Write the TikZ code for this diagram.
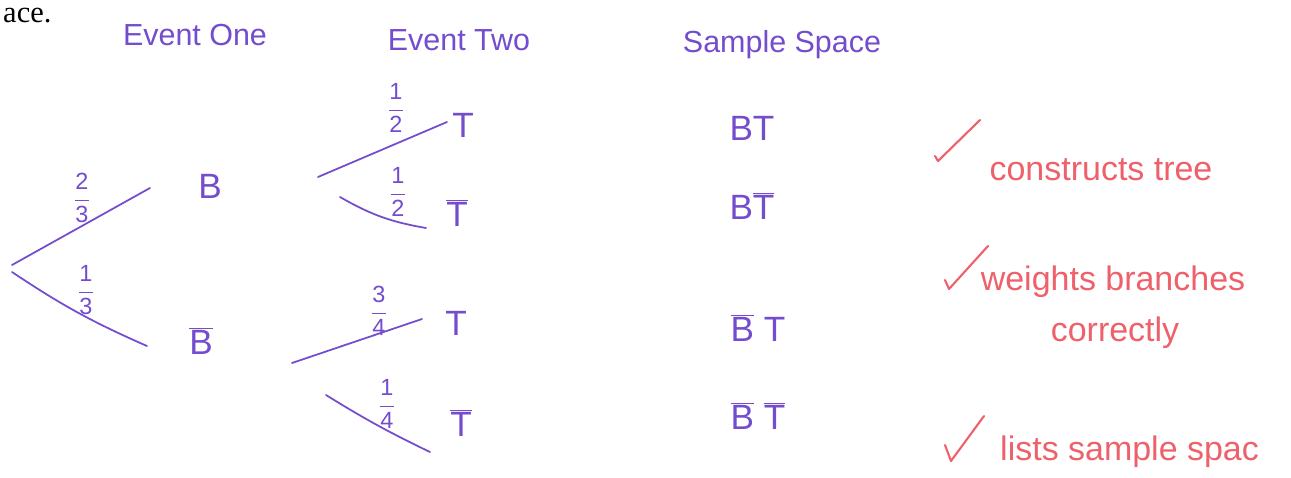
\documentclass[tikz,border=0pt]{standalone}
\usepackage{fontspec}
\setmainfont{Liberation Sans}
\newfontfamily\printfont{Liberation Serif}
\usetikzlibrary{positioning}
\definecolor{penpurple}{RGB}{116,76,206}
\definecolor{penred}{RGB}{238,96,106}
\newcommand{\nb}[1]{\ensuremath{\overline{\mbox{#1}}}}
\newcommand{\wfrac}[2]{$\displaystyle\frac{\mbox{#1}}{\mbox{#2}}$}

\begin{document}
\begin{tikzpicture}[x=0.03cm, y=-0.03cm,
    pen/.style={penpurple, line width=1.5pt, line cap=round},
    head/.style={text=penpurple, font=\fontsize{26}{30}\selectfont, inner sep=0pt},
    ev/.style={text=penpurple, font=\fontsize{30}{34}\selectfont, inner sep=0pt},
    wt/.style={text=penpurple, font=\fontsize{20}{22}\selectfont, inner sep=0pt},
    note/.style={text=penred, font=\fontsize{29}{32}\selectfont, inner sep=0pt},
    tick/.style={penred, line width=1.8pt, line cap=round, line join=round}
  ]
  \useasboundingbox (0,0) rectangle (1291,477);
  \node[anchor=base west, inner sep=0pt, font=\printfont\fontsize{26}{30}\selectfont] (ace) at (3,22) {ace.};
  \node[head] (h1) at (195,35) {Event One};
  \node[head] (h2) at (459,40) {Event Two};
  \node[head] (h3) at (782,45) {Sample Space};
  \node[ev] (b) at (210,186) {B};
  \node[ev] (nb) at (201,341) {\nb{B}};
  \node[ev] (t1) at (463,125) {T};
  \node[ev] (t2) at (457,213) {\nb{T}};
  \node[ev] (t3) at (456,323) {T};
  \node[ev] (t4) at (461,423) {\nb{T}};
  \node[ev] (s1) at (752,128) {BT};
  \node[ev] (s2) at (752,206) {B\nb{T}};
  \node[ev] (s3) at (758,328) {\nb{B} T};
  \node[ev] (s4) at (758,416) {\nb{B} \nb{T}};
  \coordinate (o1) at (12,265);
  \coordinate (o2) at (12,272);
  \coordinate (e1) at (150,188);
  \coordinate (e2) at (147,346);
  \coordinate (a1) at (318,177);
  \coordinate (z1) at (447,122);
  \coordinate (a2) at (340,197);
  \coordinate (z2) at (426,228);
  \coordinate (a3) at (292,363);
  \coordinate (z3) at (422,319);
  \coordinate (a4) at (326,395);
  \coordinate (z4) at (430,452);
  \draw[pen] (o1) -- (e1);
  \draw[pen] (o2) to[bend right=5] (e2);
  \draw[pen] (a1) -- (z1);
  \draw[pen] (a2) to[bend right=10] (z2);
  \draw[pen] (a3) -- (z3);
  \draw[pen] (a4) to[bend right=3] (z4);
  \node[wt] (w1) at (82,198) {\wfrac{2}{3}};
  \node[wt] (w2) at (86,290) {\wfrac{1}{3}};
  \node[wt] (w3) at (396,108) {\wfrac{1}{2}};
  \node[wt] (w4) at (398,192) {\wfrac{1}{2}};
  \node[wt] (w5) at (379,311) {\wfrac{3}{4}};
  \node[wt] (w6) at (387,404) {\wfrac{1}{4}};
  \draw[tick] (935,156) -- (938,161) -- (980,120);
  \node[note] (n1) at (1101,170) {constructs tree};
  \draw[tick] (945,280) -- (949,289) -- (988,246);
  \node[note] (n2) at (1113,282) {weights branches};
  \node[note] (n3) at (1115,333) {correctly};
  \draw[tick] (945,445) -- (951,461) -- (984,416);
  \node[note, anchor=west] (n4) at (1000,452) {lists sample spac};
\end{tikzpicture}
\end{document}
